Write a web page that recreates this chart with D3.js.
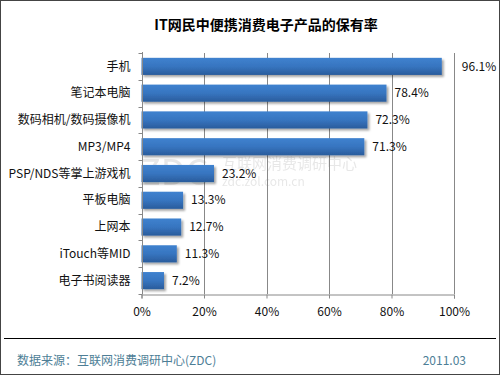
<!DOCTYPE html>
<html>
<head>
<meta charset="utf-8">
<script src="https://cdn.jsdelivr.net/npm/d3@7"></script>
<style>
body { margin: 0; background: #fff; }
svg text { font-family: "Noto Sans CJK SC", "DejaVu Sans", sans-serif; }
</style>
</head>
<body>
<div id="chart-area"></div>
<script>
var categories = ["手机", "笔记本电脑", "数码相机/数码摄像机", "MP3/MP4", "PSP/NDS等掌上游戏机", "平板电脑", "上网本", "iTouch等MID", "电子书阅读器"];
var values = [96.1, 78.4, 72.3, 71.3, 23.2, 13.3, 12.7, 11.3, 7.2];
var ticks = [0, 20, 40, 60, 80, 100];

var width = 500, height = 375;
var margin = {top: 53, left: 141.5, right: 46, bottom: 81};

var svg = d3.select("#chart-area").append("svg")
    .attr("width", width)
    .attr("height", height);

var defs = svg.append("defs");
var grad = defs.append("linearGradient").attr("id", "barGrad")
    .attr("x1", 0).attr("y1", 0).attr("x2", 0).attr("y2", 1);
grad.append("stop").attr("offset", "0%").attr("stop-color", "#3f82cf");
grad.append("stop").attr("offset", "50%").attr("stop-color", "#3775c0");
grad.append("stop").attr("offset", "100%").attr("stop-color", "#2a5c9c");

var shadow = defs.append("filter").attr("id", "shadow")
    .attr("x", "-10%").attr("y", "-30%").attr("width", "130%").attr("height", "180%");
shadow.append("feDropShadow").attr("dx", 2).attr("dy", 2).attr("stdDeviation", 1.2)
    .attr("flood-color", "#000").attr("flood-opacity", 0.35);

// outer border
svg.append("rect")
    .attr("x", 0.5).attr("y", 0.5)
    .attr("width", width - 1).attr("height", height - 1)
    .attr("fill", "#fff").attr("stroke", "#444");

svg.append("text")
    .attr("x", 266).attr("y", 30)
    .attr("text-anchor", "middle")
    .attr("font-size", "14px")
    .attr("font-weight", "bold")
    .text("IT网民中便携消费电子产品的保有率");

var x = d3.scaleLinear().domain([0, 100]).range([margin.left, 454]);
var y = d3.scaleBand().domain(categories).range([margin.top, 294])
    .paddingInner(0.36).paddingOuter(0.18);

// watermark
var wm = svg.append("g").attr("fill", "#d8d8d8").attr("opacity", 0.6);
wm.append("text").attr("x", 139).attr("y", 185).attr("font-size", "36px")
    .attr("font-family", "DejaVu Serif").text("ZDC");
wm.append("text").attr("x", 222).attr("y", 169).attr("font-size", "15px").text("互联网消费调研中心");
wm.append("text").attr("x", 222).attr("y", 186).attr("font-size", "12px").text("zdc.zol.com.cn");

// grid
svg.append("g").selectAll("line").data(ticks.slice(1)).enter().append("line")
    .attr("x1", d => Math.round(x(d)) + 0.5).attr("x2", d => Math.round(x(d)) + 0.5)
    .attr("y1", margin.top).attr("y2", 294)
    .attr("stroke", "#888");

// bars
svg.append("g").selectAll("rect").data(values).enter().append("rect")
    .attr("x", x(0))
    .attr("y", (d, i) => y(categories[i]))
    .attr("width", d => x(d) - x(0))
    .attr("height", y.bandwidth())
    .attr("fill", "url(#barGrad)")
    .attr("filter", "url(#shadow)");

// value labels
svg.append("g").selectAll("text").data(values).enter().append("text")
    .attr("x", (d, i) => x(d) + (i === 0 ? 20 : 8))
    .attr("y", (d, i) => y(categories[i]) + y.bandwidth() / 2)
    .attr("dy", "0.35em")
    .attr("font-size", "12px")
    .attr("fill", "#111")
    .text(d => d + "%");

// left axis
var leftAxis = svg.append("g").attr("transform", "translate(" + (Math.round(margin.left) + 0.5) + ",0)");
leftAxis.append("line").attr("y1", margin.top - 1).attr("y2", 294).attr("stroke", "#888");
var step = (294 - margin.top) / categories.length;
leftAxis.selectAll(".tk").data(d3.range(categories.length + 1)).enter().append("line")
    .attr("x1", -4).attr("x2", 0)
    .attr("y1", d => Math.round(margin.top + d * step) + 0.5)
    .attr("y2", d => Math.round(margin.top + d * step) + 0.5)
    .attr("stroke", "#888");
leftAxis.selectAll("text").data(categories).enter().append("text")
    .attr("x", -12)
    .attr("y", d => y(d) + y.bandwidth() / 2)
    .attr("dy", "0.35em")
    .attr("text-anchor", "end")
    .attr("font-size", "12px")
    .attr("fill", "#111")
    .text(d => d);

// bottom axis
var bottomAxis = d3.axisBottom(x)
    .tickValues(ticks)
    .tickSize(4)
    .tickFormat(d => d + "%");
svg.append("g")
    .attr("transform", "translate(0,294.5)")
    .call(bottomAxis)
    .call(g => g.select(".domain").attr("stroke", "#888"))
    .call(g => g.selectAll(".tick line").attr("stroke", "#888"))
    .call(g => g.selectAll("text")
        .attr("font-size", "12px")
        .attr("font-family", "Noto Sans CJK SC")
        .attr("fill", "#111")
        .attr("y", 13));

// footer
svg.append("line")
    .attr("x1", 4).attr("x2", 496)
    .attr("y1", 338.5).attr("y2", 338.5)
    .attr("stroke", "#000");
svg.append("text")
    .attr("x", 17).attr("y", 365)
    .attr("font-size", "12px")
    .attr("fill", "#4d7e96")
    .text("数据来源：互联网消费调研中心(ZDC)");
svg.append("text")
    .attr("x", 466).attr("y", 365)
    .attr("text-anchor", "end")
    .attr("font-size", "12px")
    .attr("fill", "#4d7e96")
    .text("2011.03");
</script>
</body>
</html>
